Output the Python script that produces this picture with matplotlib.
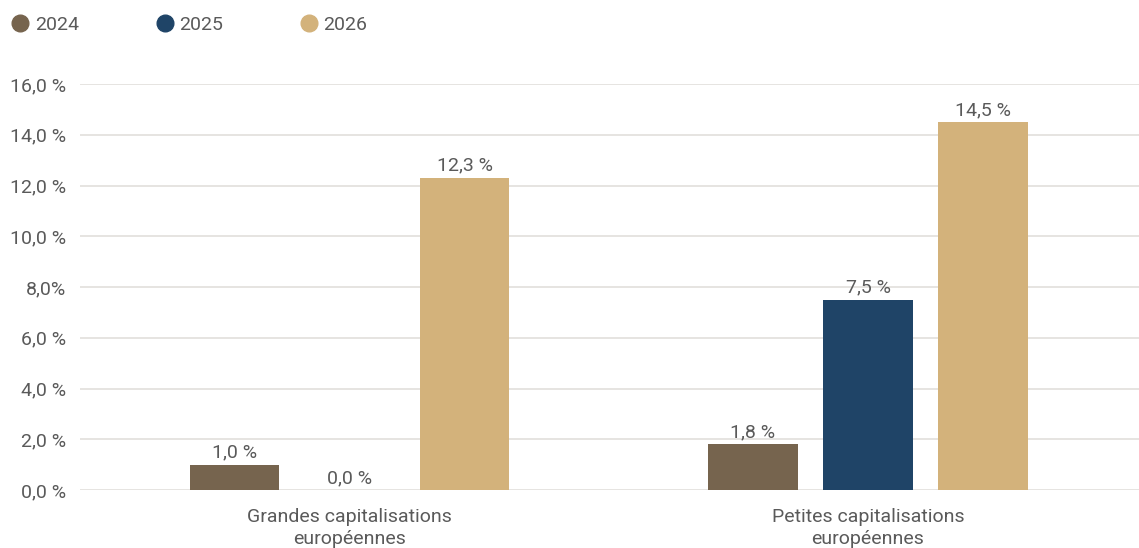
import numpy as np
import matplotlib.pyplot as plt
from matplotlib.lines import Line2D

# Données
categories = ['Grandes capitalisations\neuropéennes', 'Petites capitalisations\neuropéennes']
annees = ['2024', '2025', '2026']
valeurs = {
    '2024': [1.0, 1.8],
    '2025': [0.0, 7.5],
    '2026': [12.3, 14.5],
}
yticks = [0, 2, 4, 6, 8, 10, 12, 14, 16]
ytick_labels = ['0,0 %', '2,0 %', '4,0 %', '6,0 %', '8,0%', '10,0 %', '12,0 %', '14,0 %', '16,0 %']

couleurs = {'2024': '#76644e', '2025': '#1f4467', '2026': '#d3b27b'}
texte = '#5a5a5a'

plt.rcParams['font.family'] = ['Roboto', 'DejaVu Sans']

fig = plt.figure(figsize=(11.39, 5.48), dpi=100)
ax = fig.add_axes([0.0702, 0.1058, 0.9298, 0.7409])

x = np.arange(len(categories))
decalage = 0.222
largeur = 0.172

for i, an in enumerate(annees):
    pos = x + (i - 1) * decalage
    barres = ax.bar(pos, valeurs[an], width=largeur, color=couleurs[an], zorder=3)
    for b, v in zip(barres, valeurs[an]):
        ax.text(b.get_x() + b.get_width() / 2, v + 0.12,
                f'{v:.1f} %'.replace('.', ','),
                ha='center', va='bottom', fontsize=14, color=texte)

ax.set_xlim(-0.521, 1.523)
ax.set_ylim(0, 16)
ax.set_yticks(yticks)
ax.set_yticklabels(ytick_labels)
ax.set_xticks(x)
ax.set_xticklabels(categories)
ax.tick_params(axis='y', length=0, pad=10, labelsize=14, labelcolor=texte)
ax.tick_params(axis='x', length=0, pad=13, labelsize=14, labelcolor=texte)
for lbl in ax.get_xticklabels():
    lbl.set_linespacing(1.3)

ax.grid(axis='y', color='#e2dfdc', linewidth=1.2, zorder=0)
for s in ax.spines.values():
    s.set_visible(False)

handles = [Line2D([0], [0], marker='o', linestyle='', markersize=12,
                  markerfacecolor=couleurs[a], markeredgecolor=couleurs[a], label=a)
           for a in annees]
leg = fig.legend(handles=handles, loc='upper left', bbox_to_anchor=(-0.006, 1.0),
                 ncol=3, frameon=False, fontsize=14, handletextpad=0.15,
                 columnspacing=3.8, handlelength=1.2, borderaxespad=0.4)
for t in leg.get_texts():
    t.set_color(texte)

fig.savefig('out.png', dpi=100)
